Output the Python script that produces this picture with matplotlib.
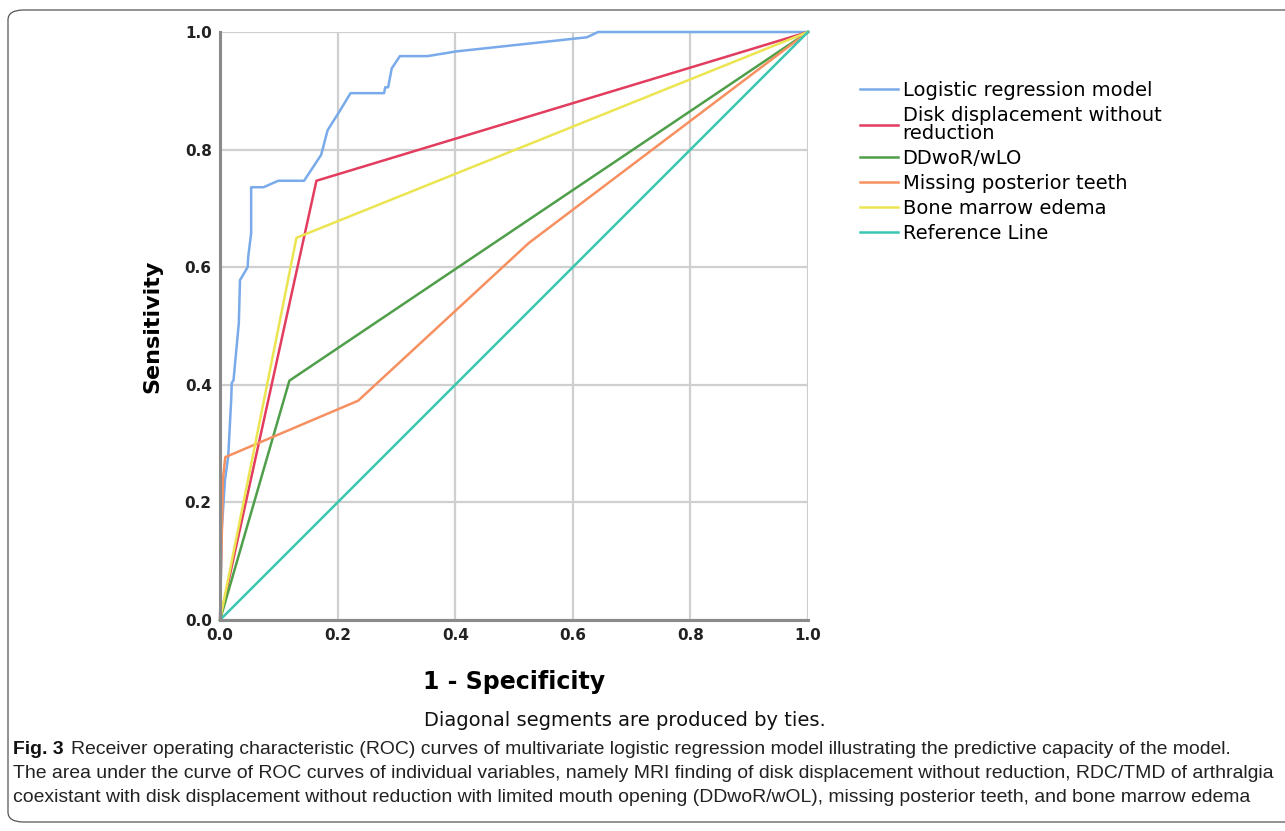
import matplotlib
matplotlib.use("Agg")
import matplotlib.pyplot as plt
from matplotlib.patches import FancyBboxPatch

# ROC curve points (1 - specificity, sensitivity)
logit_fpr = [0.0, 0.003, 0.0085, 0.014, 0.019, 0.020, 0.023, 0.032, 0.034, 0.047, 0.048,
             0.053, 0.053, 0.074, 0.099, 0.143, 0.172, 0.183, 0.202, 0.222, 0.279, 0.281,
             0.286, 0.292, 0.306, 0.353, 0.402, 0.624, 0.643, 1.0]
logit_tpr = [0.0, 0.153, 0.238, 0.278, 0.374, 0.403, 0.408, 0.505, 0.578, 0.600, 0.618,
             0.658, 0.736, 0.736, 0.747, 0.747, 0.791, 0.833, 0.863, 0.896, 0.896, 0.906,
             0.906, 0.938, 0.959, 0.959, 0.967, 0.991, 1.0, 1.0]
disk_fpr = [0.0, 0.164, 1.0]
disk_tpr = [0.0, 0.747, 1.0]
ddwor_fpr = [0.0, 0.118, 1.0]
ddwor_tpr = [0.0, 0.407, 1.0]
teeth_fpr = [0.0, 0.005, 0.009, 0.235, 0.525, 1.0]
teeth_tpr = [0.0, 0.24, 0.277, 0.373, 0.641, 1.0]
edema_fpr = [0.0, 0.130, 1.0]
edema_tpr = [0.0, 0.650, 1.0]
ref_fpr = [0.0, 1.0]
ref_tpr = [0.0, 1.0]

labels = ["Logistic regression model", "Disk displacement without\nreduction", "DDwoR/wLO",
          "Missing posterior teeth", "Bone marrow edema", "Reference Line"]
colors = ["#79aaea", "#e23c5e", "#4f9f4a", "#f79060", "#ebe552", "#3cc6b2"]
ticks = [0.0, 0.2, 0.4, 0.6, 0.8, 1.0]

cap_head = "Fig. 3"
cap_lines = [
    "Receiver operating characteristic (ROC) curves of multivariate logistic regression model illustrating the predictive capacity of the model.",
    "The area under the curve of ROC curves of individual variables, namely MRI finding of disk displacement without reduction, RDC/TMD of arthralgia",
    "coexistant with disk displacement without reduction with limited mouth opening (DDwoR/wOL), missing posterior teeth, and bone marrow edema",
]

W, H = 1285, 831
fig = plt.figure(figsize=(12.85, 8.31), dpi=100)

# rounded caption frame, open to the right edge
frame = FancyBboxPatch((8 / W, 9 / H), 1.2, 812 / H, boxstyle="round,pad=0,rounding_size=0.012",
                       transform=fig.transFigure, fill=False, edgecolor="#555555", linewidth=0.9,
                       clip_on=False)
fig.patches.append(frame)

ax = fig.add_axes([220 / W, 211 / H, 588 / W, 588 / H])
series = [(logit_fpr, logit_tpr), (disk_fpr, disk_tpr), (ddwor_fpr, ddwor_tpr),
          (teeth_fpr, teeth_tpr), (edema_fpr, edema_tpr), (ref_fpr, ref_tpr)]
for (x, y), lab, c in zip(series, labels, colors):
    ax.plot(x, y, color=c, linewidth=1.8, label=lab, solid_joinstyle="round", clip_on=False)

ax.set_xlim(0, 1)
ax.set_ylim(0, 1)
ax.set_xticks(ticks)
ax.set_yticks(ticks)
ax.set_xticklabels([f"{t:.1f}" for t in ticks], fontsize=11, fontweight="bold", color="#222222")
ax.set_yticklabels([f"{t:.1f}" for t in ticks], fontsize=11, fontweight="bold", color="#222222")
ax.tick_params(length=0, pad=6)
ax.grid(True, color="#cfcfcf", linewidth=1.6)
ax.set_axisbelow(True)
for s in ["top", "right"]:
    ax.spines[s].set_visible(False)
for s in ["left", "bottom"]:
    ax.spines[s].set_color("#8a8a8a")
    ax.spines[s].set_linewidth(2.2)

ax.set_ylabel("Sensitivity", fontsize=16, fontweight="bold", labelpad=16)
ax.set_xlabel("1 - Specificity", fontsize=17, fontweight="bold", labelpad=19)

leg = ax.legend(loc="upper left", bbox_to_anchor=(852 / W, 1 - 73 / H),
                bbox_transform=fig.transFigure, frameon=False, fontsize=14,
                handlelength=1.95, handletextpad=0.25, labelspacing=0.31, borderaxespad=0)
for t in leg.get_texts():
    t.set_linespacing(0.95)

fig.text(625 / W, 1 - 720 / H, "Diagonal segments are produced by ties.", fontsize=14,
         fontweight="medium", ha="center", va="center", color="#111111")

# caption: fit the font size so the long lines span the frame like the original
ys = [749, 773, 797]
fs = 12
r = fig.canvas.get_renderer()
probe = fig.text(13 / W, 0.5, cap_lines[1], fontsize=fs, family="Liberation Sans")
w = probe.get_window_extent(renderer=r).width
probe.remove()
fs = fs * (1262 / w)

head = fig.text(13 / W, 1 - ys[0] / H, cap_head, fontsize=fs, fontweight="bold",
                family="Liberation Sans", va="center", color="#111111")
bb = head.get_window_extent(renderer=r)
fig.text((bb.x1 + 7) / W, 1 - ys[0] / H, cap_lines[0], fontsize=fs, family="Liberation Sans",
         va="center", color="#222222")
for yy, line in zip(ys[1:], cap_lines[1:]):
    fig.text(13 / W, 1 - yy / H, line, fontsize=fs, family="Liberation Sans", va="center",
             color="#222222")

fig.savefig("out.png", dpi=100)
